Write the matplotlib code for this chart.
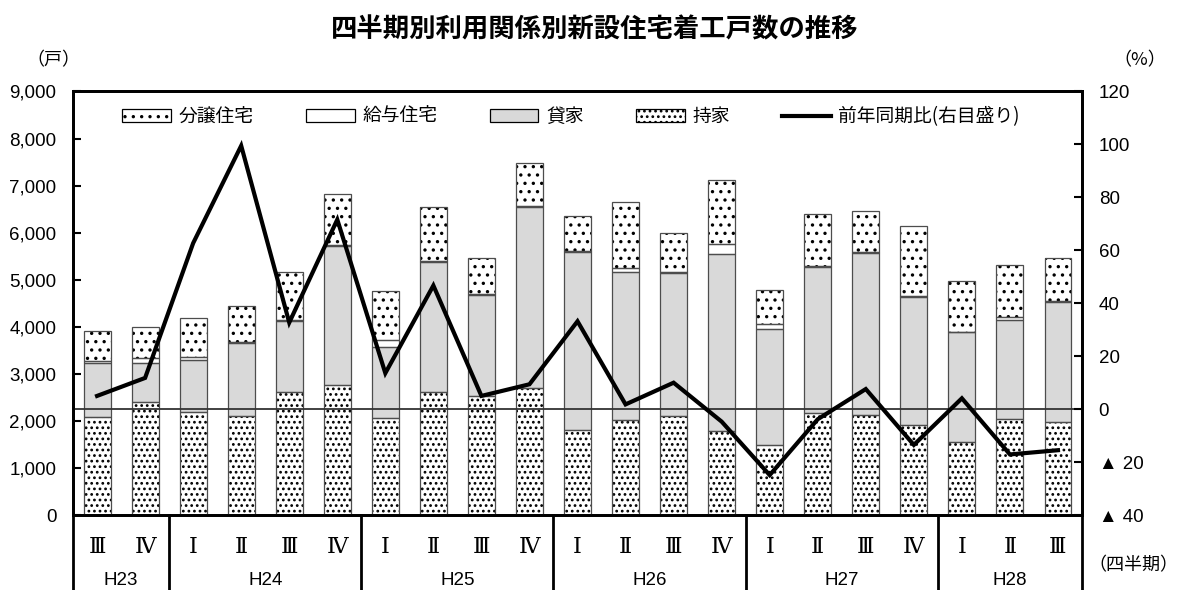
import numpy as np
import matplotlib
matplotlib.use("Agg")
import matplotlib.pyplot as plt
from matplotlib.patches import Patch
from matplotlib.lines import Line2D
from matplotlib.ticker import FuncFormatter

plt.rcParams["font.family"] = ["Liberation Sans", "Noto Sans CJK JP", "DejaVu Sans"]
plt.rcParams["hatch.linewidth"] = 1.2

JP = ["Noto Sans CJK JP", "DejaVu Sans"]

quarters = ["Ⅲ", "Ⅳ", "Ⅰ", "Ⅱ", "Ⅲ", "Ⅳ", "Ⅰ", "Ⅱ", "Ⅲ", "Ⅳ", "Ⅰ",
            "Ⅱ", "Ⅲ", "Ⅳ", "Ⅰ", "Ⅱ", "Ⅲ", "Ⅳ", "Ⅰ", "Ⅱ", "Ⅲ"]
years = ["H23", "H24", "H25", "H26", "H27", "H28"]
year_counts = [2, 4, 4, 4, 4, 3]

# 戸数
mochiie = [2080, 2400, 2180, 2110, 2610, 2760, 2060, 2610, 2540, 2700, 1800,
           2020, 2105, 1795, 1490, 2165, 2130, 1905, 1547, 2036, 1980]
kashiya = [1160, 840, 1110, 1550, 1520, 2966, 1510, 2760, 2140, 3855, 3780,
           3145, 3045, 3753, 2462, 3100, 3447, 2735, 2333, 2114, 2555]
kyuyo = [40, 90, 64, 20, 20, 20, 155, 20, 20, 20, 20,
         85, 20, 213, 106, 20, 20, 20, 20, 49, 20]
bunjo = [630, 660, 830, 770, 1020, 1085, 1030, 1150, 760, 900, 745,
         1400, 815, 1353, 715, 1106, 857, 1483, 1073, 1106, 900]

# 前年同期比 (%)
yoy = [5.0, 11.8, 62.7, 99.5, 32.7, 71.6, 13.6, 46.7, 5.0, 9.4, 33.2,
       1.8, 10.0, -4.7, -24.9, -3.8, 7.6, -13.5, 4.1, -17.1, -15.5]


def stacked(ax, x, vals, bottom, face, hatch, width):
    ax.bar(x, vals, width, bottom=bottom, color=face, hatch=hatch,
           edgecolor="black", linewidth=0, zorder=2)
    ax.bar(x, vals, width, bottom=bottom, fill=False,
           edgecolor="#4d4d4d", linewidth=0.9, zorder=3)


def pct_label(v, pos):
    v = int(round(v))
    return f"▲ {-v}" if v < 0 else f"{v}"


def main():
    fig = plt.figure(figsize=(11.78, 5.90), dpi=100)
    ax = fig.add_axes([0.062, 0.127, 0.8565, 0.718])
    x = np.arange(len(quarters))
    w = 0.56

    b = np.zeros(len(x))
    layers = [(mochiie, "white", "..."), (kashiya, "#d9d9d9", None),
              (kyuyo, "white", None), (bunjo, "white", "..")]
    for vals, face, hatch in layers:
        stacked(ax, x, vals, b, face, hatch, w)
        b = b + np.array(vals)

    ax.set_xlim(-0.5, len(x) - 0.5)
    ax.set_ylim(0, 9000)
    ax.set_yticks(np.arange(0, 9001, 1000))
    ax.yaxis.set_major_formatter(FuncFormatter(lambda v, p: f"{int(v):,}"))
    ax.tick_params(axis="y", direction="in", length=6, width=1.5,
                   labelsize=13.5, pad=12)
    ax.set_xticks([])
    for s in ax.spines.values():
        s.set_linewidth(2)

    ax2 = ax.twinx()
    ax2.set_ylim(-40, 120)
    ax2.set_yticks(np.arange(-40, 121, 20))
    ax2.yaxis.set_major_formatter(FuncFormatter(pct_label))
    ax2.tick_params(axis="y", direction="in", length=6, width=1.5,
                    labelsize=13.5, pad=12)
    for s in ax2.spines.values():
        s.set_linewidth(2)
    ax2.axhline(0, color="#333333", linewidth=1.3, zorder=1)
    ax2.plot(x, yoy, color="black", linewidth=3, solid_joinstyle="miter")

    # 四半期・年度の表
    trans = ax.get_xaxis_transform()
    for xi, q in zip(x, quarters):
        ax.text(xi, -0.075, q, transform=trans, ha="center", va="center",
                fontsize=16, family=["DejaVu Serif", "Noto Sans CJK JP"])
    start = -0.5
    edges = [start]
    for yr, n in zip(years, year_counts):
        ax.text(start + n / 2, -0.155, yr, transform=trans, ha="center",
                va="center", fontsize=13.5)
        start += n
        edges.append(start)
    for e in edges:
        ax.plot([e, e], [0, -0.2], transform=trans, color="black",
                linewidth=2, clip_on=False)

    handles = [
        Patch(facecolor="white", edgecolor="black", hatch="..", linewidth=0.9),
        Patch(facecolor="white", edgecolor="black", linewidth=0.9),
        Patch(facecolor="#d9d9d9", edgecolor="black", linewidth=0.9),
        Patch(facecolor="white", edgecolor="black", hatch="...", linewidth=0.9),
        Line2D([], [], color="black", linewidth=3),
    ]
    labels = ["分譲住宅", "給与住宅", "貸家", "持家", "前年同期比(右目盛り)"]
    ax2.legend(handles, labels, loc="center", bbox_to_anchor=(0.4936, 0.94),
               ncol=5, frameon=False, prop={"family": JP, "size": 13.5},
               handlelength=2.6, handleheight=0.7, handletextpad=0.4,
               columnspacing=2.8)

    fig.text(0.505, 0.95, "四半期別利用関係別新設住宅着工戸数の推移",
             ha="center", va="center", fontsize=19, fontweight="bold",
             family=JP)
    fig.text(0.045, 0.898, "（戸）", ha="center", va="center", fontsize=13,
             family=JP)
    fig.text(0.968, 0.898, "（%）", ha="center", va="center", fontsize=13,
             family=JP)
    fig.text(0.9625, 0.042, "（四半期）", ha="center", va="center",
             fontsize=13, family=JP)

    fig.savefig("out.png", dpi=100)
    plt.close(fig)


if __name__ == "__main__":
    main()
